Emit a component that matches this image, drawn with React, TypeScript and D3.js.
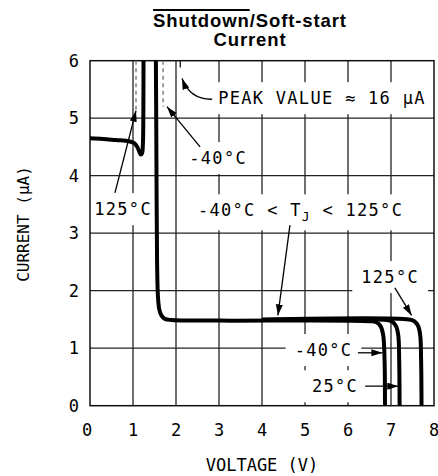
import React, { useLayoutEffect, useRef, useState } from 'react';
import * as d3 from 'd3';

type P = [number, number];

const xTicks = [0, 1, 2, 3, 4, 5, 6, 7, 8];
const yTicks = [0, 1, 2, 3, 4, 5, 6];

// 125°C low-voltage portion (rises off the top toward the ~16 µA peak)
const curve125Low: P[] = [
  [0, 4.65], [0.3, 4.64], [0.6, 4.62], [0.9, 4.6], [1.02, 4.57], [1.1, 4.5],
  [1.15, 4.41], [1.18, 4.37], [1.21, 4.39], [1.23, 4.55], [1.24, 5.0], [1.245, 6.3],
];
// descent after the peak, common plateau and -40°C roll-off
const curveM40: P[] = [
  [1.53, 6.3], [1.54, 5.0], [1.55, 3.5], [1.56, 2.5], [1.58, 1.9], [1.61, 1.68],
  [1.66, 1.57], [1.74, 1.51], [1.9, 1.49], [3, 1.48], [6.5, 1.47], [6.66, 1.45],
  [6.76, 1.38], [6.82, 1.22], [6.85, 0.8], [6.86, 0],
];
const curve25: P[] = [
  [4, 1.49], [6.9, 1.49], [7.03, 1.46], [7.12, 1.38], [7.17, 1.22], [7.19, 0.8], [7.2, 0],
];
const curve125High: P[] = [
  [4, 1.5], [7.42, 1.5], [7.54, 1.47], [7.63, 1.39], [7.68, 1.22], [7.7, 0.8], [7.71, 0],
];
const dashed125: P[] = [[1.07, 6], [1.07, 5.14]];
const dashedM40: P[] = [[1.7, 6], [1.7, 5.2]];
const peakTick: P[] = [[2.1, 6], [2.1, 5.88]];

// annotation anchors (data units)
const labelItems = [
  { key: 'l125', text: '125°C', x: 0.77, y: 3.42, anchor: 'middle' },
  { key: 'lm40', text: '-40°C', x: 2.98, y: 4.31, anchor: 'middle' },
  { key: 'peak', text: 'PEAK VALUE ≈ 16 µA', x: 2.98, y: 5.35, anchor: 'start' },
  { key: 'r125', text: '125°C', x: 6.98, y: 2.24, anchor: 'middle' },
  { key: 'rm40', text: '-40°C', x: 5.43, y: 0.97, anchor: 'middle' },
  { key: 'r25', text: '25°C', x: 5.7, y: 0.34, anchor: 'middle' },
];
const rangeLabel = { x: 2.51, y: 3.4 };
const straightArrows: [P, P][] = [
  [[0.58, 3.7], [1.07, 5.13]],
  [[2.56, 4.5], [1.79, 5.2]],
  [[4.65, 3.14], [4.37, 1.57]],
  [[7.09, 2.05], [7.48, 1.57]],
  [[6.23, 0.92], [6.8, 0.92]],
  [[6.4, 0.34], [7.17, 0.34]],
];
const peakArrow: P[] = [[2.84, 5.33], [2.33, 5.32], [2.14, 5.69]];

const W = 438, H = 476;
const plot = { left: 90, right: 434, top: 60.7, bottom: 405.7 };
const MONO = '"DejaVu Sans Mono", monospace';
const TITLE_FONT = '"Liberation Sans", Arial, sans-serif';

type Box = { x: number; y: number; width: number; height: number };

export default function App() {
  const x = d3.scaleLinear().domain([0, 8]).range([plot.left, plot.right]);
  const y = d3.scaleLinear().domain([0, 6]).range([plot.bottom, plot.top]);
  const line = d3.line<P>().x(d => x(d[0])).y(d => y(d[1])).curve(d3.curveCatmullRom.alpha(0.5));
  const straight = d3.line<P>().x(d => x(d[0])).y(d => y(d[1]));
  const quad = (p: P[]) => {
    const path = d3.path();
    path.moveTo(x(p[0][0]), y(p[0][1]));
    path.quadraticCurveTo(x(p[1][0]), y(p[1][1]), x(p[2][0]), y(p[2][1]));
    return path.toString();
  };

  const titleRef = useRef<SVGTextElement>(null);
  const labelsRef = useRef<SVGGElement>(null);
  const [over, setOver] = useState<[number, number] | null>(null);
  const [boxes, setBoxes] = useState<Box[]>([]);
  useLayoutEffect(() => {
    const t = titleRef.current;
    if (t) {
      const a = t.getStartPositionOfChar(0);
      const b = t.getEndPositionOfChar(7);
      setOver([a.x, b.x]);
    }
    const g = labelsRef.current;
    if (g) {
      const bs: Box[] = [];
      g.querySelectorAll('text').forEach(el => {
        const bb = (el as SVGTextElement).getBBox();
        bs.push({ x: bb.x, y: bb.y, width: bb.width, height: bb.height });
      });
      setBoxes(bs);
    }
  }, []);

  const labelStyle = { fontFamily: MONO, fontSize: 17, letterSpacing: 1.3 } as const;
  const padX = 9, padY = 6;

  return (
    <svg width={W} height={H} style={{ position: 'absolute', left: 0, top: 0, background: '#fff' }}>
      <defs>
        <clipPath id="plotclip">
          <rect x={plot.left} y={plot.top} width={plot.right - plot.left} height={plot.bottom - plot.top} />
        </clipPath>
        <marker id="ah" markerUnits="userSpaceOnUse" markerWidth={12} markerHeight={8} refX={11} refY={3.5} orient="auto">
          <path d="M0,0 L11,3.5 L0,7 Z" fill="#000" />
        </marker>
      </defs>

      {/* title */}
      <text ref={titleRef} x={250} y={26.5} textAnchor="middle" fontFamily={TITLE_FONT}
        fontWeight="bold" fontSize={18.5} letterSpacing={0.9}>Shutdown/Soft-start</text>
      {over && <line x1={over[0]} x2={over[1]} y1={10} y2={10} stroke="#000" strokeWidth={2} />}
      <text x={250} y={45.5} textAnchor="middle" fontFamily={TITLE_FONT}
        fontWeight="bold" fontSize={18.5} letterSpacing={0.9}>Current</text>

      {/* grid */}
      {xTicks.slice(1, -1).map(t => (
        <line key={'gx' + t} x1={x(t)} x2={x(t)} y1={plot.top} y2={plot.bottom} stroke="#222" strokeWidth={1.3} />
      ))}
      {yTicks.slice(1, -1).map(t => (
        <line key={'gy' + t} y1={y(t)} y2={y(t)} x1={plot.left} x2={plot.right} stroke="#222" strokeWidth={1.3} />
      ))}

      {/* white boxes behind annotation labels (mask the grid) */}
      {boxes.map((b, i) => (
        <rect key={'bx' + i} x={Math.max(b.x - padX, plot.left + 1)} y={b.y - padY}
          width={Math.min(b.width + 2 * padX, plot.right - 1 - Math.max(b.x - padX, plot.left + 1))}
          height={b.height + 2 * padY} fill="#fff" />
      ))}

      <rect x={plot.left} y={plot.top} width={plot.right - plot.left} height={plot.bottom - plot.top}
        fill="none" stroke="#111" strokeWidth={1.5} />

      {/* tick labels */}
      {xTicks.map(t => (
        <text key={'tx' + t} x={x(t) + (t === 0 ? -3 : 0)} y={436} textAnchor="middle" fontFamily={MONO} fontSize={17}>{t}</text>
      ))}
      {yTicks.map(t => (
        <text key={'ty' + t} x={79} y={y(t)} dy="0.35em" textAnchor="end" fontFamily={MONO} fontSize={17}>{t}</text>
      ))}

      {/* axis titles */}
      <text x={(plot.left + plot.right) / 2} y={471} textAnchor="middle" fontFamily={MONO} fontSize={17}>VOLTAGE (V)</text>
      <text transform={`translate(29,224) rotate(-90)`} textAnchor="middle"
        fontFamily={MONO} fontSize={16}>CURRENT (µA)</text>

      {/* annotation labels */}
      <g ref={labelsRef} fill="#000">
        {labelItems.map(l => (
          <text key={l.key} x={x(l.x)} y={y(l.y)} dy="0.36em" textAnchor={l.anchor as any} {...labelStyle}>
            {l.text}
          </text>
        ))}
        <text x={x(rangeLabel.x)} y={y(rangeLabel.y)} dy="0.36em" {...labelStyle}>
          -40°C &lt; T<tspan dy={5} fontSize={13}>J</tspan><tspan dy={-5}> &lt; 125°C</tspan>
        </text>
      </g>

      {/* curves */}
      <g clipPath="url(#plotclip)" fill="none" strokeLinecap="butt" strokeLinejoin="round">
        <path d={straight(dashed125)!} stroke="#888" strokeWidth={1.6} strokeDasharray="4,3.5" />
        <path d={straight(dashedM40)!} stroke="#888" strokeWidth={1.6} strokeDasharray="4,3.5" />
        <path d={straight(peakTick)!} stroke="#222" strokeWidth={1.4} />
        <path d={line(curve125Low)!} stroke="#000" strokeWidth={4} />
        <path d={line(curve125High)!} stroke="#000" strokeWidth={4} />
        <path d={line(curve25)!} stroke="#000" strokeWidth={4} />
        <path d={line(curveM40)!} stroke="#000" strokeWidth={4} />
      </g>

      {/* arrows */}
      {straightArrows.map((a, i) => (
        <path key={'ar' + i} d={straight(a)!} stroke="#000" strokeWidth={1.3} fill="none" markerEnd="url(#ah)" />
      ))}
      <path d={quad(peakArrow)} stroke="#000" strokeWidth={1.3} fill="none" markerEnd="url(#ah)" />
    </svg>
  );
}
